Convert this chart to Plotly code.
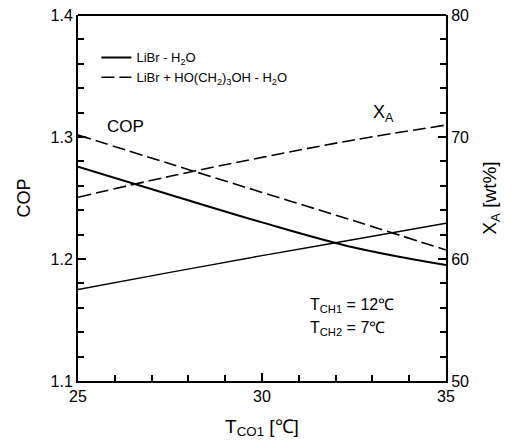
import plotly.graph_objects as go

# Data
t_co1 = [25, 27.5, 30, 32.5, 35]
cop_libr = [1.2757, 1.2527, 1.230, 1.2094, 1.195]
cop_mix = [1.3016, 1.278, 1.2546, 1.2313, 1.2074]
xa_libr = [57.5, 58.9, 60.28, 61.6, 62.93]
xa_mix = [65.06, 66.78, 68.33, 69.76, 70.98]

FONT = "Liberation Sans, Arial, Helvetica, sans-serif"
DASH = "13px,5px"

fig = go.Figure()
fig.add_trace(go.Scatter(x=t_co1, y=cop_libr, mode="lines", name="LiBr - H<sub>2</sub>O",
                         line=dict(color="black", width=2), line_shape="spline"))
fig.add_trace(go.Scatter(x=t_co1, y=cop_mix, mode="lines",
                         name="LiBr + HO(CH<sub>2</sub>)<sub>3</sub>OH - H<sub>2</sub>O",
                         line=dict(color="black", width=1.6, dash=DASH), line_shape="spline"))
fig.add_trace(go.Scatter(x=t_co1, y=xa_libr, mode="lines", yaxis="y2", showlegend=False,
                         line=dict(color="black", width=1.4), line_shape="spline"))
fig.add_trace(go.Scatter(x=t_co1, y=xa_mix, mode="lines", yaxis="y2", showlegend=False,
                         line=dict(color="black", width=1.6, dash=DASH), line_shape="spline"))

axis_common = dict(showgrid=False, zeroline=False, showline=True, linecolor="#000000",
                   linewidth=2, ticks="inside", tickcolor="#000000", ticklen=8, tickwidth=2,
                   automargin=False)

fig.update_layout(
    width=524, height=446,
    margin=dict(l=78, r=78, t=15, b=65),
    paper_bgcolor="white", plot_bgcolor="white",
    font=dict(family=FONT, size=16, color="#000000"),
    xaxis=dict(range=[25, 35], dtick=5,
               minor=dict(dtick=1, ticks="inside", ticklen=6, tickcolor="#000000", tickwidth=1.5),
               title=dict(text="T<sub>CO1</sub> [℃]", font=dict(size=19)),
               **axis_common),
    yaxis=dict(range=[1.1, 1.4], dtick=0.1, tickformat=".1f",
               minor=dict(dtick=0.02, ticks="inside", ticklen=6, tickcolor="#000000", tickwidth=1.5),
               title=dict(text="COP", font=dict(size=18)),
               **axis_common),
    yaxis2=dict(range=[50, 80], dtick=10, overlaying="y", side="right",
                minor=dict(dtick=2, ticks="inside", ticklen=6, tickcolor="#000000", tickwidth=1.5),
                title=dict(text="X<sub>A</sub> [wt%]", font=dict(size=19)),
                **axis_common),
    legend=dict(x=0.05, y=0.925, xanchor="left", yanchor="top", bgcolor="rgba(0,0,0,0)",
                font=dict(size=13), tracegroupgap=0, itemwidth=30),
    showlegend=True,
)

# top border of the frame
fig.add_shape(type="line", xref="paper", yref="paper", x0=0, x1=1, y0=1, y1=1,
              line=dict(color="#000000", width=2))

fig.add_annotation(x=26.28, y=1.309, xref="x", yref="y", text="COP", showarrow=False,
                   font=dict(size=17))
fig.add_annotation(x=33.29, y=1.319, xref="x", yref="y", text="X<sub>A</sub>", showarrow=False,
                   font=dict(size=18))
fig.add_annotation(x=(308 - 78) / 368, y=(381 - 317) / 366, xref="paper", yref="paper",
                   xanchor="left", text="T<sub>CH1</sub> = 12℃", showarrow=False,
                   font=dict(size=16))
fig.add_annotation(x=(308 - 78) / 368, y=(381 - 340) / 366, xref="paper", yref="paper",
                   xanchor="left", text="T<sub>CH2</sub> = 7℃", showarrow=False,
                   font=dict(size=16))

fig.write_html("out.html")
